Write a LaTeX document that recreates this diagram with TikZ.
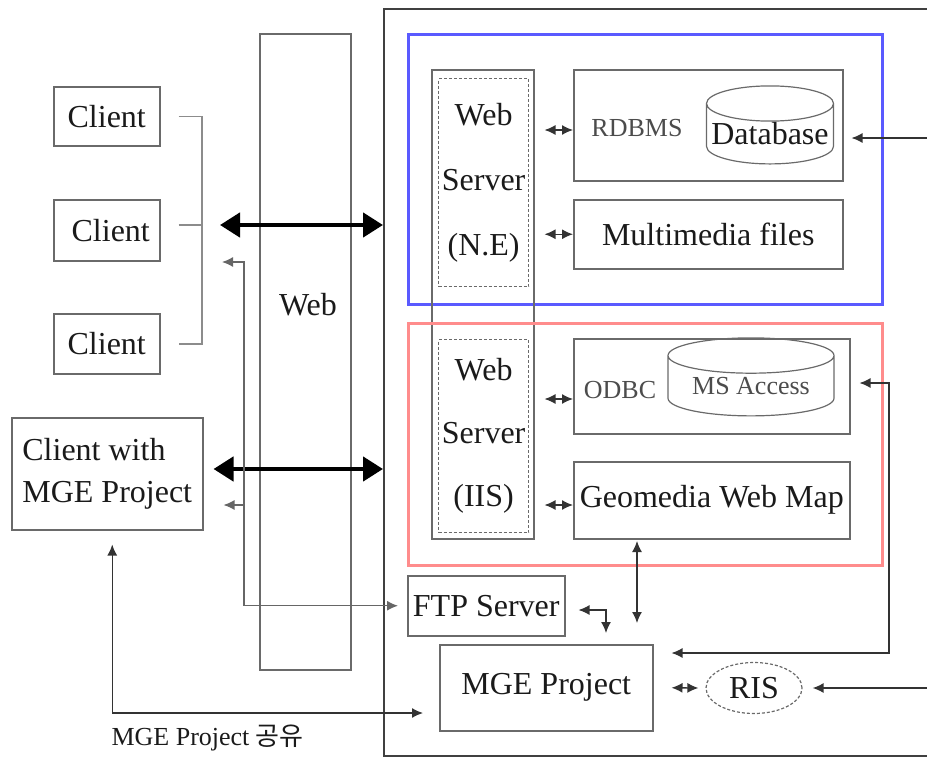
\documentclass[tikz,border=0pt]{standalone}
\usepackage{fontspec}
\setmainfont{Liberation Serif}
\newfontfamily\krfont{Noto Sans CJK KR}
\usetikzlibrary{positioning, arrows.meta, shapes.geometric}
\definecolor{rulegray}{HTML}{6A6A6A}
\definecolor{linkgray}{HTML}{8C8C8C}
\definecolor{nerule}{HTML}{5A5AFF}
\definecolor{iisrule}{HTML}{FF8C8C}
\definecolor{inkgray}{HTML}{1A1A1A}

\begin{document}
\begin{tikzpicture}[
  x=1pt, y=-1pt,
  font=\fontsize{32}{38}\selectfont,
  every node/.style={align=center, text=inkgray},
  box/.style={
    rectangle, draw=rulegray, line width=1.5pt,
    inner sep=0pt, anchor=north west
  },
  dashbox/.style={
    rectangle, draw=rulegray, line width=1.2pt,
    dash pattern=on 3pt off 2pt,
    inner sep=0pt, anchor=north west
  },
  groupbox/.style={rectangle, line width=2.5pt, inner sep=0pt, anchor=north west},
  store/.style={
    cylinder, shape border rotate=90, draw=rulegray, line width=1.2pt,
    aspect=0.3, inner sep=0pt
  },
  smalltext/.style={font=\fontsize{26}{30}\selectfont, text=black!70},
  bigarrow/.style={{Triangle[length=20pt,width=24pt]}-{Triangle[length=20pt,width=24pt]},
    line width=4.5pt, color=black},
  arrow/.style={-{Latex[length=11pt,width=10pt]}, line width=1.3pt, color=black!80},
  twoway/.style={{Latex[length=11pt,width=10pt]}-{Latex[length=11pt,width=10pt]},
    line width=1.3pt, color=black!80},
  bracket/.style={line width=1.5pt, color=linkgray}
]

\path[use as bounding box, clip] (0,0) rectangle (927,758);

% --- Left side: clients and the web
\node[box, minimum width=106pt, minimum height=59pt] (c1) at (53,86) {Client};
\node[box, minimum width=106pt, minimum height=61pt] (c2) at (53,199) {\hspace*{8pt}Client};
\node[box, minimum width=106pt, minimum height=60pt] (c3) at (53,313) {Client};
\node[box, minimum width=191pt, minimum height=112pt, align=left] (cwm) at (11,417)
  {Client with\\[4pt]MGE Project};

\node[box, minimum width=91pt, minimum height=636pt] (web) at (259,33) {};
\node (weblbl) at (308,305) {Web};

% --- System frame (runs off the right edge)
\node[box, minimum width=620pt, minimum height=747pt, draw=black!75] (sys) at (383,8) {};

% --- Netscape group
\node[groupbox, draw=nerule, minimum width=474pt, minimum height=270pt] (negrp) at (407,33) {};
\node[box, minimum width=102pt, minimum height=469pt] (wscol) at (431,69) {};
\node[dashbox, minimum width=90pt, minimum height=208pt] (ne) at (438,78)
  {Web\\[27pt]Server\\[27pt](N.E)};
\node[box, minimum width=269pt, minimum height=111pt] (rdbms) at (573,69) {};
\node[smalltext] (rdbmslbl) at (637,128) {RDBMS};
\node[store, minimum width=127pt, minimum height=78pt] (database) at (770,134) {Database};
\node[box, minimum width=269pt, minimum height=69pt] (media) at (573,199) {Multimedia files};

% --- IIS group
\node[groupbox, draw=iisrule, minimum width=474pt, minimum height=242pt] (iisgrp) at (407,322) {};
\node[dashbox, minimum width=90pt, minimum height=193pt] (iis) at (438,339)
  {Web\\[25pt]Server\\[25pt](IIS)};
\node[box, minimum width=276pt, minimum height=95pt] (odbc) at (573,338) {};
\node[smalltext] (odbclbl) at (620,390) {ODBC};
\node[store, minimum width=166pt, minimum height=78pt, smalltext] (access) at (751,386) {MS Access};
\node[box, minimum width=276pt, minimum height=77pt] (geo) at (573,461) {Geomedia Web Map};

% --- Bottom: FTP, MGE Project, RIS
\node[box, minimum width=157pt, minimum height=60pt] (ftp) at (407,575) {FTP Server};
\node[box, minimum width=213pt, minimum height=86pt] (mge) at (439,644) {MGE Project};
\node[ellipse, draw=rulegray, line width=1.2pt, dash pattern=on 3pt off 2pt,
  minimum width=96pt, minimum height=51pt, inner sep=0pt] (ris) at (754,688) {RIS};
\node[smalltext, text=inkgray, anchor=west] (sharelbl) at (108,738)
  {MGE Project {\krfont 공유}};

% --- Client bracket and thick links
\coordinate (hub) at (202,225);
\draw[bracket] ([xshift=18pt]c1.east) -| (hub) |- ([xshift=18pt]c3.east);
\draw[bracket] ([xshift=18pt]c2.east |- hub) -- (hub);
\draw[bigarrow] ([xshift=18pt]hub) -- (hub -| sys.west);
\draw[bigarrow] ([xshift=10pt]cwm.east |- 0,469) -- (sys.west |- 0,469);

% --- FTP download line
\coordinate (tap) at (244,262);
\draw[twoway, color=black!60] ([xshift=-22pt]tap) -- (tap) |- ([xshift=-9pt]ftp.west);
\draw[arrow, color=black!60] (tap |- 0,505) -- ([xshift=20pt]cwm.east |- 0,505);

% --- Web servers to back ends
\draw[twoway] ([xshift=10pt]wscol.east |- 0,130) -- (rdbms.west |- 0,130);
\draw[twoway] ([xshift=10pt]wscol.east |- media.west) -- (media.west);
\draw[twoway] ([xshift=10pt]wscol.east |- 0,399) -- (odbc.west |- 0,399);
\draw[twoway] ([xshift=10pt]wscol.east |- 0,505) -- (geo.west |- 0,505);

% --- Feeds from the right
\draw[arrow] (927,138) -- ([xshift=8pt]rdbms.east |- 0,138);
\draw[twoway] ([xshift=9pt]odbc.east |- 0,383) -| (889,653) -- ([xshift=18pt]mge.east |- 0,653);
\draw[arrow] (927,688) -- ([xshift=10pt]ris.east);

% --- Around MGE Project
\draw[twoway] (637,541) -- (637,623);
\draw[twoway] ([xshift=13pt]ftp.east |- 0,610) -| (606,633);
\draw[twoway] ([xshift=18pt]mge.east) -- ([xshift=-7pt]ris.west);
\draw[twoway] ([xshift=5pt,yshift=-14pt]cwm.south) |- ([xshift=-16pt]mge.west |- 0,713);

\end{tikzpicture}
\end{document}
